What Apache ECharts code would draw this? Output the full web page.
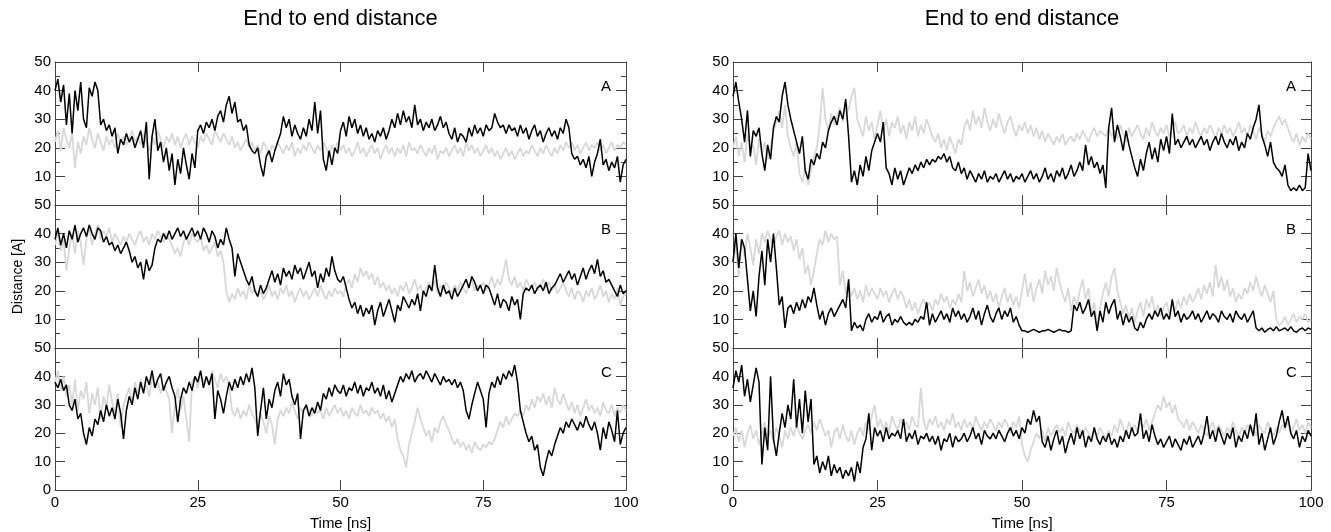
<!DOCTYPE html>
<html>
<head>
<meta charset="utf-8">
<script src="https://cdn.jsdelivr.net/npm/echarts@6/dist/echarts.min.js"></script>
<style>
  html, body { margin: 0; background: #fff; }
  #chart { width: 1331px; height: 532px; }
</style>
</head>
<body>
<div id="chart"></div>
<script>
// trajectories are sampled every 0.5 ns, 0..100 ns (201 points each)
const STEP = 0.5;
const xTicks = [0, 25, 50, 75, 100];
const panelLetters = ['A', 'B', 'C'];
const titleText = 'End to end distance';

// ---- left figure ----
const leftA_black = [
  40, 44, 36, 42, 28, 39, 25, 40, 33, 43,
  30, 27, 41, 38, 43, 40, 28, 30, 26, 28,
  24, 27, 18, 23, 21, 25, 22, 24, 20, 23,
  26, 20, 29, 9, 24, 30, 19, 22, 15, 20,
  12, 18, 7, 16, 11, 20, 14, 9, 18, 13,
  26, 28, 25, 29, 27, 30, 26, 31, 33, 29,
  35, 38, 32, 36, 29, 30, 26, 28, 21, 19,
  18, 20, 14, 10, 17, 19, 15, 19, 22, 25,
  31, 27, 30, 24, 28, 25, 23, 27, 24, 30,
  26, 36, 25, 33, 16, 12, 19, 14, 20, 18,
  26, 29, 24, 31, 27, 30, 25, 28, 24, 27,
  23, 25, 22, 26, 24, 27, 23, 26, 30, 27,
  32, 28, 33, 29, 31, 27, 35, 28, 30, 26,
  29, 27, 30, 26, 28, 31, 27, 29, 25, 23,
  27, 22, 25, 24, 22, 27, 24, 28, 25, 27,
  24, 28, 26, 27, 32, 29, 27, 28, 25, 28,
  26, 27, 24, 28, 25, 27, 23, 26, 28, 24,
  26, 22, 25, 27, 24, 26, 23, 27, 25, 30,
  27, 18, 16, 17, 14, 16, 13, 17, 10, 15,
  18, 23, 14, 16, 12, 15, 13, 17, 8, 14,
  16
];
const leftA_gray = [
  22, 26, 19, 27, 23, 20, 25, 13, 22, 18,
  24, 21, 27, 23, 20, 25, 22, 19, 24, 21,
  23, 20, 25, 22, 24, 21, 23, 26, 22, 24,
  21, 25, 22, 19, 24, 21, 26, 23, 20, 24,
  22, 25, 21, 24, 20, 23, 25, 21, 24, 22,
  20, 24, 22, 25, 23, 21, 26, 24, 22, 25,
  23, 21, 24, 20, 22, 19, 21, 23, 20, 22,
  19, 21, 18, 22, 20, 17, 21, 19, 22, 20,
  18, 21, 19, 22, 17, 20, 18, 21, 19, 22,
  20, 18, 21, 19, 22, 20, 17, 21, 19, 22,
  19, 21, 18, 20, 17, 19, 22, 18, 20, 17,
  19, 21, 18, 20, 16, 19, 21, 18, 20, 17,
  20, 18, 21, 17, 22, 19, 20, 18, 21, 19,
  17, 20, 18, 21, 16, 19, 18, 20, 17, 19,
  21, 18, 20, 17, 22, 19, 21, 18, 20, 17,
  19, 21, 18, 20, 17, 19, 16, 18, 20, 17,
  19, 16, 18, 20, 17, 19, 18, 21, 19, 17,
  20, 18, 21, 19, 17, 20, 18, 21, 19, 22,
  20, 22, 19, 21, 18, 20, 22, 19, 21, 20,
  22, 19, 21, 18, 20, 22, 19, 21, 20, 22,
  21
];
const leftB_black = [
  38, 42, 36, 40, 35, 41, 38, 43, 37, 40,
  42, 39, 43, 40, 38, 42, 41, 37, 39, 36,
  37, 34, 36, 33, 35, 37, 34, 30, 32, 28,
  30, 24, 31, 27, 29, 35, 38, 37, 40, 38,
  41, 38, 40, 42, 39, 41, 38, 40, 42, 39,
  41, 38, 42, 40, 37, 41, 39, 35, 38, 36,
  42, 38, 35, 25, 33, 30, 27, 24, 22, 25,
  20, 18, 22, 19, 21, 24, 27, 23, 26, 22,
  28, 25, 27, 24, 29, 26, 28, 24, 27, 30,
  25, 27, 21, 26, 23, 28, 25, 32, 27, 24,
  23, 25, 21, 17, 14, 16, 12, 15, 11, 14,
  12, 15, 8, 13, 16, 11, 14, 17, 13, 9,
  15, 13, 18, 16, 14, 17, 15, 19, 13, 20,
  18, 22, 20, 29, 21, 18, 22, 19, 20, 17,
  21, 18, 20, 22, 24, 21, 25, 23, 20, 22,
  19, 22, 21, 18, 15, 19, 14, 17, 16, 13,
  18, 15, 17, 10, 19, 21, 20, 22, 19, 21,
  22, 20, 23, 19, 21, 22, 24, 26, 23, 25,
  27, 24, 26, 22, 25, 28, 24, 27, 29, 26,
  31, 25, 27, 23, 24, 22, 20, 18, 22, 19,
  20
];
const leftB_gray = [
  36, 40, 34, 38, 27, 35, 40, 33, 41, 37,
  29, 38, 42, 36, 40, 43, 38, 41, 39, 42,
  37, 40, 38, 36, 39, 37, 40, 38, 36, 39,
  41, 37, 39, 36, 40, 38, 41, 39, 37, 40,
  38, 36, 33, 35, 32, 37, 39, 36, 40, 38,
  37, 39, 34, 36, 33, 35, 37, 32, 34, 30,
  20, 16, 19, 17, 21, 18, 20, 17, 22, 19,
  21, 18, 20, 17, 19, 22, 18, 20, 17, 21,
  19, 22, 18, 20, 16, 19, 21, 18, 20, 17,
  19, 21, 18, 22, 19, 17, 20, 18, 21, 19,
  20, 18, 22, 24, 21, 26, 23, 28, 25, 27,
  24, 26, 22, 25, 21, 23, 20, 22, 19, 21,
  18, 22, 20, 23, 19, 21, 24, 20, 22, 19,
  21, 23, 20, 24, 19, 22, 20, 23, 21, 19,
  22, 20, 23, 21, 19, 22, 24, 20, 22, 21,
  23, 20, 22, 25, 21, 24, 22, 26, 31, 24,
  22, 25, 21, 23, 20, 24, 22, 21, 23, 20,
  22, 24, 21, 23, 20, 22, 19, 21, 23, 20,
  18, 21, 17, 20, 19, 16, 20, 18, 21, 17,
  19, 22, 18, 20, 16, 19, 17, 21, 15, 18,
  19
];
const leftC_black = [
  38, 36, 39, 35, 37, 30, 28, 32, 25, 27,
  20, 16, 22, 19, 25, 23, 28, 24, 30, 26,
  29, 25, 32, 27, 18, 28, 33, 30, 36, 32,
  38, 34, 40, 37, 42, 36, 39, 41, 35, 38,
  40, 36, 33, 24, 32, 36, 34, 38, 35, 40,
  38, 42, 36, 40, 37, 41, 25, 35, 32, 27,
  33, 38, 35, 39, 36, 40, 37, 41, 38, 43,
  36, 19, 28, 36, 25, 32, 29, 35, 38, 33,
  41, 37, 39, 33, 30, 34, 18, 28, 30, 26,
  29, 27, 31, 28, 34, 32, 36, 33, 37, 35,
  34, 37, 33, 36, 35, 38, 34, 37, 33, 36,
  35, 38, 34, 36, 33, 37, 32, 35, 31, 34,
  37, 40, 38, 41, 39, 42, 38, 40, 41, 39,
  42, 40, 38, 41, 39, 37, 40, 38, 39, 37,
  39, 36, 38, 35, 28, 25, 30, 34, 38, 35,
  32, 22, 34, 38, 36, 40, 37, 41, 39, 42,
  40, 44, 38, 28, 24, 20, 17, 19, 14, 16,
  8, 5, 10, 14, 12, 16, 19, 22, 20, 24,
  22, 25, 23, 21, 24, 22, 26, 23, 21, 24,
  20, 14, 22, 18, 24, 21, 17, 28, 16, 20,
  22
];
const leftC_gray = [
  38, 42, 35, 40, 33, 37, 30, 39, 28, 35,
  32, 38, 27, 34, 30, 36, 25, 33, 29, 37,
  31, 27, 34, 22, 30, 33, 36, 31, 38, 34,
  39, 35, 37, 33, 40, 36, 38, 34, 37, 35,
  32, 20, 30, 36, 28, 33, 25, 17, 38, 40,
  36, 41, 38, 40, 37, 42, 39, 36, 41, 38,
  40, 37, 28, 26, 29, 25, 28, 26, 30, 27,
  25, 22, 27, 24, 20, 26, 23, 16, 25, 28,
  26, 29, 27, 31, 28, 25, 29, 27, 30, 28,
  26, 29, 27, 28, 25, 29, 26, 28, 30, 27,
  29, 26, 28, 25, 29, 27, 26, 30, 27, 28,
  26, 29, 27, 28, 25, 27, 24, 26, 22, 25,
  18, 14, 12, 8, 16, 20, 24, 29, 25, 22,
  19, 21, 17, 22, 20, 24, 26, 23, 21, 18,
  16, 18, 15, 17, 14, 16, 13, 17, 15, 14,
  16, 15, 17, 16, 18, 21, 24, 22, 26, 23,
  25, 27, 26, 28, 26, 30, 28, 32, 29, 33,
  31, 34, 30, 33, 29, 36, 32, 30, 34, 31,
  28, 31, 27, 30, 26, 29, 32, 28, 30, 27,
  29, 26, 31, 28, 27, 30, 26, 29, 27, 30,
  28
];

// ---- right figure ----
const rightA_black = [
  38, 43, 36, 30, 22, 33, 17, 26, 24, 27,
  18, 12, 21, 16, 27, 31, 29, 38, 43, 35,
  30, 26, 22, 18, 24, 12, 9, 16, 14, 18,
  16, 22, 20, 26, 29, 31, 28, 33, 30, 37,
  24, 8, 12, 7, 14, 10, 17, 12, 19, 22,
  25, 22, 29, 13, 11, 7, 13, 9, 12, 7,
  10, 13, 11, 14, 12, 15, 13, 16, 14, 16,
  15, 17, 16, 18, 15, 17, 13, 12, 15, 11,
  13, 9, 12, 10, 8, 11, 9, 12, 8, 10,
  9, 11, 8, 10, 12, 9, 11, 8, 10, 9,
  11, 8, 10, 12, 9, 11, 8, 10, 13, 9,
  11, 8, 12, 10, 13, 9, 11, 14, 10, 12,
  15, 12, 21, 14, 17, 13, 15, 11, 14, 6,
  27, 34, 22, 28, 24, 19, 26, 21, 17, 13,
  10, 16, 12, 18, 22, 16, 20, 15, 23, 19,
  24, 18, 32, 21, 23, 20, 22, 24, 21, 23,
  20, 22, 24, 21, 23, 19, 22, 24, 21, 25,
  22, 20, 23, 21, 24, 19, 22, 20, 25, 23,
  27, 30, 35, 24, 21, 17, 22, 15, 13, 12,
  10, 14, 7, 5, 6, 5, 7, 5, 6, 18,
  12
];
const rightA_gray = [
  20, 24, 17, 22, 15, 25, 19, 21, 14, 23,
  18, 22, 16, 20, 26, 29, 33, 27, 35, 24,
  20, 17, 22, 11, 8, 13, 7, 12, 17, 20,
  28, 41, 30, 26, 32, 28, 31, 34, 29, 36,
  33, 38, 41, 30, 27, 24, 31, 26, 29, 23,
  28, 33, 26, 30, 24, 29, 27, 31, 25, 28,
  23, 29, 26, 31, 24, 28, 25, 30, 27, 24,
  22, 25, 20, 23, 19, 24, 21, 18, 23, 21,
  27, 30, 26, 33, 28, 31, 27, 34, 29, 26,
  30, 27, 32, 28, 25, 29, 31, 27, 24, 28,
  26, 29, 25, 28, 24, 27, 23, 26, 22, 25,
  23, 21, 24, 22, 25, 21, 23, 24, 22, 25,
  23, 26, 24, 22, 25, 27, 24, 26, 25, 24,
  27, 24, 26, 23, 28, 25, 22, 27, 24, 26,
  28, 25, 23, 27, 24, 29, 26, 24, 27, 25,
  28, 24, 27, 29, 25, 26, 28, 24, 27, 25,
  29, 26, 24, 27, 25, 28, 26, 23, 27, 25,
  28, 25, 27, 24, 26, 29, 25, 27, 24, 28,
  26, 23, 27, 25, 22, 26, 24, 27, 29, 31,
  28, 30, 27, 24, 22, 25, 21, 24, 22, 25,
  23
];
const rightB_black = [
  30, 40, 28, 38, 35, 24, 13, 20, 11, 25,
  34, 22, 38, 30, 40, 28, 15, 18, 7, 14,
  15, 12, 16, 13, 17, 14, 18, 16, 21, 15,
  10, 13, 8, 12, 14, 11, 13, 15, 17, 14,
  24, 6, 9, 7, 8, 6, 10, 12, 9, 11,
  10, 13, 9, 11, 12, 8, 10, 9, 11, 9,
  8, 9, 8, 10, 9, 11, 10, 16, 8, 12,
  9, 11, 13, 10, 12, 9, 14, 11, 13, 10,
  12, 9, 11, 14, 10, 13, 8, 12, 15, 11,
  9, 12, 14, 10, 13, 11, 14, 9, 11, 8,
  6, 6, 5.5, 6, 6.5, 6, 5.5, 6, 6, 6.5,
  6, 5.5, 6, 6.5, 6, 6, 5.5, 6, 15, 13,
  16, 12, 14, 17, 11, 13, 6, 13, 9, 16,
  12, 15, 17, 10, 13, 8, 12, 9, 11, 7,
  6, 9, 7, 10, 12, 10, 13, 11, 14, 10,
  12, 10, 17, 11, 13, 9, 12, 10, 11, 13,
  10, 12, 9, 11, 13, 10, 12, 11, 9, 13,
  11, 10, 12, 9, 13, 11, 10, 12, 9, 11,
  13, 7, 6, 7, 5.5, 6.5, 7, 6, 7.5, 6,
  6.5, 7, 6, 7.5, 6, 5.5, 6.5, 7, 6, 7,
  6.5
];
const rightB_gray = [
  30, 36, 25, 38, 32, 40, 35, 29, 38, 33,
  40, 37, 41, 38, 35, 39, 41, 36, 40, 37,
  39, 34, 38, 31, 35, 26, 29, 22, 27, 33,
  38, 36, 41, 37, 40, 38, 39, 22, 27, 19,
  23, 18, 21, 17, 20, 16, 22, 18, 21, 19,
  17, 21, 18, 20, 16, 19, 21, 17, 20, 18,
  14, 17, 13, 16, 12, 15, 17, 14, 16, 13,
  17, 15, 19, 16, 18, 14, 17, 15, 19, 16,
  27, 20, 23, 18, 21, 24, 19, 22, 17, 20,
  16, 19, 14, 18, 21, 16, 19, 15, 18, 14,
  20, 26, 18, 23, 16, 21, 24, 19, 27, 22,
  25, 20, 28, 23, 19, 16, 21, 13, 18, 15,
  20, 24, 17, 21, 12, 16, 8, 14, 19, 23,
  18, 25, 28, 20, 16, 12, 15, 10, 14, 9,
  13, 16, 11, 17, 14, 18, 12, 15, 11, 14,
  16, 12, 15, 13, 17, 14, 18, 15, 19, 16,
  18, 21, 17, 22, 19, 23, 18, 29, 21, 25,
  20, 24, 18, 21, 16, 19, 17, 21, 19, 23,
  20, 25, 21, 18, 22, 19, 16, 20, 10, 8,
  9, 11, 8, 10, 12, 9, 11, 10, 12, 9,
  10
];
const rightC_black = [
  36, 42, 38, 44, 33, 39, 31, 37, 43, 38,
  9, 22, 14, 40, 18, 12, 20, 27, 22, 30,
  25, 39, 22, 32, 20, 35, 24, 32, 9, 12,
  6, 10, 7, 12, 5, 9, 6, 8, 4, 7,
  5, 8, 3, 10, 6, 15, 18, 27, 14, 22,
  19, 21, 17, 22, 18, 20, 19, 21, 18, 25,
  17, 20, 18, 21, 16, 19, 18, 20, 17, 19,
  16, 19, 14, 18, 17, 20, 15, 19, 17, 18,
  20, 17, 19, 22, 18, 20, 16, 21, 19, 18,
  20, 18, 21, 19, 17, 20, 22, 19, 21, 18,
  22, 20, 25, 23, 28, 24, 26, 17, 15, 19,
  14, 18, 21, 16, 19, 13, 17, 20, 16, 22,
  18, 21, 15, 19, 17, 22, 18, 16, 19, 17,
  20, 16, 18, 15, 19, 17, 21, 18, 22, 19,
  20, 27, 18, 21, 17, 23, 19, 16, 18, 15,
  17, 19, 15, 18, 16, 14, 18, 16, 19, 15,
  17, 19, 16, 20, 26, 18, 21, 17, 22, 19,
  16, 20, 18, 22, 15, 19, 17, 21, 18, 23,
  19, 27, 16, 20, 14, 18, 22, 16, 19, 24,
  28, 22, 26, 20, 18, 21, 15, 19, 17, 21,
  19
];
const rightC_gray = [
  19, 22, 17, 21, 15, 20, 23, 18, 21, 16,
  20, 24, 18, 21, 17, 22, 19, 15, 21, 18,
  22, 19, 23, 20, 18, 21, 23, 20, 24, 21,
  25, 22, 19, 21, 15, 20, 22, 18, 23, 19,
  17, 21, 16, 20, 22, 19, 24, 21, 26, 30,
  22, 25, 21, 24, 20, 26, 23, 21, 25, 22,
  24, 21, 26, 23, 22, 36, 24, 21, 25, 23,
  26, 22, 24, 21, 25, 23, 27, 22, 24, 21,
  25, 22, 24, 21, 26, 23, 21, 24, 22, 25,
  23, 21, 24, 22, 25, 23, 20, 24, 22, 26,
  16, 12, 10, 14, 17, 20, 18, 21, 17, 22,
  19, 21, 23, 20, 22, 19, 24, 21, 20, 23,
  21, 19, 22, 20, 18, 21, 19, 22, 20, 18,
  21, 19, 23, 20, 25, 22, 19, 24, 21, 23,
  20, 24, 22, 25, 21, 24, 27, 30, 28, 33,
  29, 31, 27, 30, 25, 24, 22, 25, 21, 24,
  22, 20, 23, 21, 19, 22, 24, 20, 23, 21,
  19, 22, 20, 24, 21, 18, 22, 20, 23, 21,
  22, 19, 23, 21, 20, 24, 21, 19, 22, 20,
  23, 21, 24, 20, 22, 25, 21, 23, 20, 24,
  22
];

const panels = [
  [leftA_gray, leftA_black], [leftB_gray, leftB_black], [leftC_gray, leftC_black],
  [rightA_gray, rightA_black], [rightB_gray, rightB_black], [rightC_gray, rightC_black]
];

const FONT = 'Liberation Sans, Arial, sans-serif';
const columns = [{ left: 55, width: 571 }, { left: 733, width: 578 }];
const rowTops = [62, 205, 348];
const PANEL_H = 143;
const FRAME = '#444';

const toPoints = arr => arr.map((v, i) => [i * STEP, v]);

// frame line; onZero off so top/right axes stay on their own edge
const frameLine = { show: true, onZero: false, lineStyle: { color: FRAME, width: 1 } };

const grids = [];
const xAxes = [];
const yAxes = [];
const series = [];
const graphics = [];

columns.forEach((col, c) => {
  rowTops.forEach((top, r) => {
    const g = grids.length;
    const isBottom = r === 2;
    grids.push({ left: col.left, top: top, width: col.width, height: PANEL_H });

    // bottom x axis (labels only on the last row)
    xAxes.push({
      gridIndex: g, type: 'value', min: 0, max: 100, interval: 25, position: 'bottom',
      axisLine: frameLine,
      axisTick: { show: true, inside: true, length: 10, lineStyle: { color: FRAME } },
      axisLabel: { show: isBottom, color: '#000', fontSize: 15, fontFamily: FONT, margin: 5 },
      splitLine: { show: false },
      name: isBottom ? 'Time [ns]' : '', nameLocation: 'middle', nameGap: 26,
      nameTextStyle: { color: '#000', fontSize: 15, fontFamily: FONT }
    });
    // top x axis, ticks only
    xAxes.push({
      gridIndex: g, type: 'value', min: 0, max: 100, interval: 25, position: 'top',
      axisLine: frameLine,
      axisTick: { show: true, inside: true, length: 10, lineStyle: { color: FRAME } },
      axisLabel: { show: false }, splitLine: { show: false }
    });
    // left y axis
    yAxes.push({
      gridIndex: g, type: 'value', min: 0, max: 50, interval: 10, position: 'left',
      axisLine: frameLine,
      axisTick: { show: true, inside: true, length: 10, lineStyle: { color: FRAME } },
      minorTick: { show: true, splitNumber: 2, length: 5, lineStyle: { color: FRAME } },
      axisLabel: {
        color: '#000', fontSize: 15, fontFamily: FONT, margin: 4,
        formatter: v => (v === 0 && !isBottom) ? '' : String(v)
      },
      splitLine: { show: false }, minorSplitLine: { show: false },
      name: (c === 0 && r === 1) ? 'Distance [A]' : '', nameLocation: 'middle', nameGap: 30,
      nameTextStyle: { color: '#000', fontSize: 14, fontFamily: FONT }
    });
    // right y axis, ticks only
    yAxes.push({
      gridIndex: g, type: 'value', min: 0, max: 50, interval: 10, position: 'right',
      axisLine: frameLine,
      axisTick: { show: true, inside: true, length: 10, lineStyle: { color: FRAME } },
      minorTick: { show: true, splitNumber: 2, length: 5, lineStyle: { color: FRAME } },
      axisLabel: { show: false }, splitLine: { show: false }
    });

    const [gray, black] = panels[g];
    [[gray, '#d8d8d8', 1.8], [black, '#000', 1.5]].forEach(([arr, color, w]) => {
      series.push({
        type: 'line', xAxisIndex: g * 2, yAxisIndex: g * 2, data: toPoints(arr),
        showSymbol: false, symbol: 'none', silent: true, animation: false,
        lineStyle: { color: color, width: w, join: 'bevel' }
      });
    });

    // panel letter just left of the 40 tick on the right frame
    graphics.push({
      type: 'text', left: col.left + col.width - 25, top: top + PANEL_H * 0.2 - 11,
      style: { text: panelLetters[r], fill: '#000', font: '15px ' + FONT }
    });
  });

  graphics.push({
    type: 'text', x: col.left + col.width / 2, y: 8,
    style: { text: titleText, fill: '#000', font: '22px ' + FONT, textAlign: 'center', textVerticalAlign: 'top' }
  });
});

const chart = echarts.init(document.getElementById('chart'), null, { renderer: 'canvas' });
chart.setOption({
  animation: false,
  backgroundColor: '#fff',
  grid: grids,
  xAxis: xAxes,
  yAxis: yAxes,
  series: series,
  graphic: graphics
});
</script>
</body>
</html>
